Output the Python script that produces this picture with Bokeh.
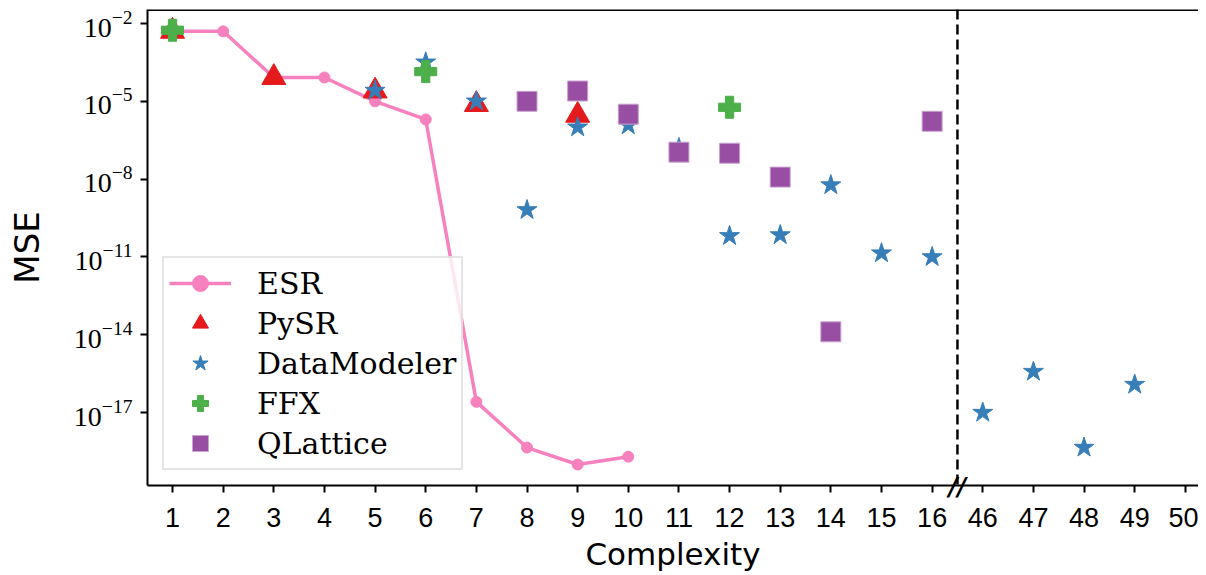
from bokeh.plotting import figure
from bokeh.models import FixedTicker, Span, Legend, LegendItem, LinearAxis
from bokeh.embed import file_html
from bokeh.resources import INLINE

# ---- data ----
x_tick_labels = [str(c) for c in range(1, 17)] + ["46", "47", "48", "49", "50"]

esr_x = [1, 2, 3, 4, 5, 6, 7, 8, 9, 10]
esr_y = [5e-3, 5e-3, 8.3e-5, 8.3e-5, 1e-5, 2e-6, 2.6e-17, 4.5e-19, 1e-19, 2e-19]

pysr_x = [1, 3, 5, 7, 9]
pysr_y = [5e-3, 8.3e-5, 2.5e-5, 7.5e-6, 2.9e-6]

dm_x = [5, 6, 7, 8, 9, 10, 11, 12, 13, 14, 15, 16, 46, 47, 48, 49]
dm_y = [2.6e-5, 3.2e-4, 1e-5, 6.5e-10, 1e-6, 1.2e-6, 1.6e-7, 6.5e-11, 7e-11,
        5.9e-9, 1.4e-11, 1e-11, 1e-17, 3.8e-16, 4.5e-19, 1.2e-16]

ffx_x = [1, 6, 12]
ffx_y = [5.5e-3, 1.4e-4, 5.9e-6]

ql_x = [8, 9, 10, 11, 12, 13, 14, 16]
ql_y = [1e-5, 2.5e-5, 3.2e-6, 1.1e-7, 1e-7, 1.2e-8, 1.3e-14, 1.7e-6]

y_ticks = [1e-2, 1e-5, 1e-8, 1e-11, 1e-14, 1e-17]
break_after = 16

# map complexity to evenly spaced positions (broken axis)
pos = {int(lbl): i + 1 for i, lbl in enumerate(x_tick_labels)}
def P(xs):
    return [pos[x] for x in xs]

tick_pos = list(range(1, len(x_tick_labels) + 1))
y_lo, y_hi = 10 ** -19.81, 10 ** -1.46

p = figure(width=1198, height=574, y_axis_type="log",
           x_range=(0.506, 21.26), y_range=(y_lo, y_hi),
           output_backend="svg", toolbar_location=None,
           min_border_left=147, min_border_right=0, min_border_top=9,
           min_border_bottom=60)
p.outline_line_color = None
p.grid.visible = False
p.background_fill_color = "white"

# series
r_esr_l = p.line(P(esr_x), esr_y, line_color="#f781bf", line_width=3.5)
r_esr_c = p.scatter(P(esr_x), esr_y, marker="circle", size=11,
                    fill_color="#f781bf", line_color="#f781bf")
r_pysr = p.scatter(P(pysr_x), pysr_y, marker="triangle", size=24,
                   fill_color="#e41a1c", line_color="#e41a1c")
r_dm = p.scatter(P(dm_x), dm_y, marker="star", size=21,
                 fill_color="#377eb8", line_color="#377eb8")
r_ffx = p.scatter(P(ffx_x), ffx_y, marker="plus", size=22,
                  fill_color="#4daf4a", line_color="#4daf4a")
r_ql = p.scatter(P(ql_x), ql_y, marker="square", size=20,
                 fill_color="#984ea3", line_color="#c9a3cf", line_width=1)

# ---- x axis: an inner axis carries the spine, ticks and the "//" break mark,
# the outer axis carries the tick labels and the title
main_ax = p.xaxis[0]
main_ax.ticker = FixedTicker(ticks=tick_pos)
main_ax.major_label_overrides = {t: lbl for t, lbl in zip(tick_pos, x_tick_labels)}
main_ax.axis_line_color = None
main_ax.major_tick_line_color = None
main_ax.major_tick_out = 0
main_ax.major_tick_in = 0
main_ax.minor_tick_line_color = None
main_ax.major_label_text_font = "Liberation Sans"
main_ax.major_label_text_font_size = "27px"
main_ax.major_label_text_color = "black"
main_ax.major_label_standoff = 4
main_ax.axis_label = "Complexity"
main_ax.axis_label_text_font = "DejaVu Sans"
main_ax.axis_label_text_font_size = "31px"
main_ax.axis_label_text_font_style = "normal"
main_ax.axis_label_text_color = "black"
main_ax.axis_label_standoff = 6

break_ax = LinearAxis(
    ticker=FixedTicker(ticks=[break_after + 0.5], minor_ticks=tick_pos),
    major_label_overrides={break_after + 0.5: "//"},
    axis_line_color="black", axis_line_width=2,
    major_tick_line_color=None, major_tick_out=0, major_tick_in=0,
    minor_tick_line_color="black", minor_tick_line_width=2,
    minor_tick_out=7, minor_tick_in=0,
    major_label_text_font="DejaVu Sans", major_label_text_font_style="bold italic",
    major_label_text_font_size="24px", major_label_text_color="black",
    major_label_standoff=-20,
)
p.below = [break_ax, main_ax]

# ---- y axis
yax = p.yaxis[0]
yax.ticker = FixedTicker(ticks=y_ticks)
yax.axis_line_width = 2
yax.axis_line_color = "black"
yax.major_tick_line_width = 2
yax.major_tick_line_color = "black"
yax.major_tick_out = 7
yax.major_tick_in = 0
yax.minor_tick_line_color = None
yax.major_label_text_font = "Liberation Serif"
yax.major_label_text_font_size = "28px"
yax.major_label_text_color = "black"
yax.major_label_standoff = 8
yax.axis_label = "MSE"
yax.axis_label_text_font = "DejaVu Sans"
yax.axis_label_text_font_size = "34px"
yax.axis_label_text_font_style = "normal"
yax.axis_label_text_color = "black"
yax.axis_label_standoff = 24

# top spine
p.add_layout(Span(location=y_hi, dimension="width", line_color="black", line_width=3))

# break line
p.add_layout(Span(location=break_after + 0.5, dimension="height", line_color="black",
                  line_width=2.5, line_dash="10 5"))

legend = Legend(items=[
    LegendItem(label="ESR", renderers=[r_esr_l, r_esr_c]),
    LegendItem(label="PySR", renderers=[r_pysr]),
    LegendItem(label="DataModeler", renderers=[r_dm]),
    LegendItem(label="FFX", renderers=[r_ffx]),
    LegendItem(label="QLattice", renderers=[r_ql]),
], location="bottom_left")
legend.margin = 15
legend.padding = 5
legend.spacing = 0
legend.glyph_width = 62
legend.glyph_height = 40
legend.label_height = 30
legend.label_standoff = 26
legend.label_text_font = "DejaVu Serif"
legend.label_text_font_size = "30px"
legend.label_text_color = "black"
legend.border_line_color = "#cccccc"
legend.border_line_width = 2
legend.background_fill_alpha = 0.8
p.add_layout(legend)

open("out.html", "w").write(file_html(p, INLINE))
